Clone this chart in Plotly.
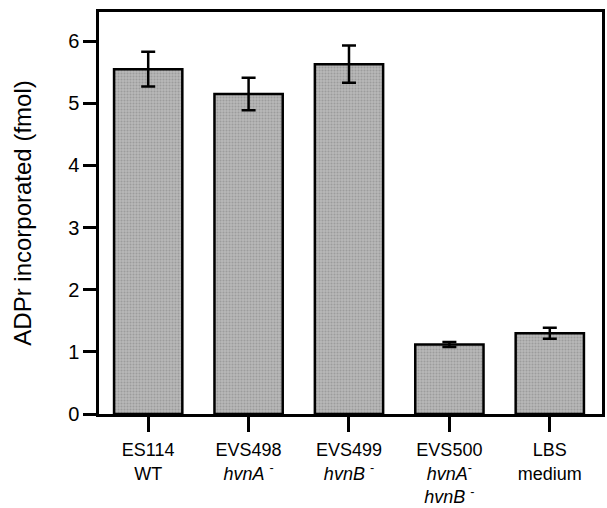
import plotly.graph_objects as go

categories = ["ES114", "EVS498", "EVS499", "EVS500", "LBS"]
tick_labels = [
    "ES114<br>WT",
    "EVS498<br><i>hvnA</i> <sup>-</sup>",
    "EVS499<br><i>hvnB</i> <sup>-</sup>",
    "EVS500<br><i>hvnA</i><sup>-</sup><br><i>hvnB</i> <sup>-</sup>",
    "LBS<br>medium",
]
values = [5.55, 5.15, 5.63, 1.12, 1.30]
errors = [0.28, 0.26, 0.30, 0.04, 0.09]
y_ticks = [0, 1, 2, 3, 4, 5, 6]

fig = go.Figure()
fig.add_trace(go.Bar(
    x=list(range(len(categories))),
    y=values,
    width=0.68,
    marker=dict(
        color="#ababab",
        line=dict(color="black", width=2.5),
        pattern=dict(shape=".", fgcolor="#808080", bgcolor="#b8b8b8", size=3, solidity=0.35),
    ),
    error_y=dict(type="data", array=errors, visible=True, color="black", thickness=2.5, width=7),
    showlegend=False,
))

font = "Liberation Sans, Arial, sans-serif"
fig.update_layout(
    width=607, height=508,
    margin=dict(l=99, r=5, t=12, b=94),
    paper_bgcolor="white", plot_bgcolor="white",
    font=dict(family=font, color="black", size=20),
)
fig.update_xaxes(
    range=[-0.49, 4.52],
    tickmode="array", tickvals=list(range(len(categories))), ticktext=tick_labels,
    ticks="outside", ticklen=15, tickwidth=2.5, tickcolor="black",
    showline=True, linecolor="black", linewidth=2.5, mirror=True,
    showgrid=False, zeroline=False, automargin=False,
    tickfont=dict(size=18, family=font),
    ticklabelstandoff=3,
)
fig.update_yaxes(
    range=[0, 6.47],
    tickmode="array", tickvals=y_ticks,
    ticks="outside", ticklen=13, tickwidth=2.5, tickcolor="black",
    showline=True, linecolor="black", linewidth=2.5, mirror=True,
    showgrid=False, zeroline=False, automargin=False,
    tickfont=dict(size=20, family=font),
    title=dict(text="ADPr incorporated (fmol)", font=dict(size=24, family=font), standoff=30),
)
fig.write_html("out.html", config={"displayModeBar": False},
               post_script="document.body.style.margin='0';")
